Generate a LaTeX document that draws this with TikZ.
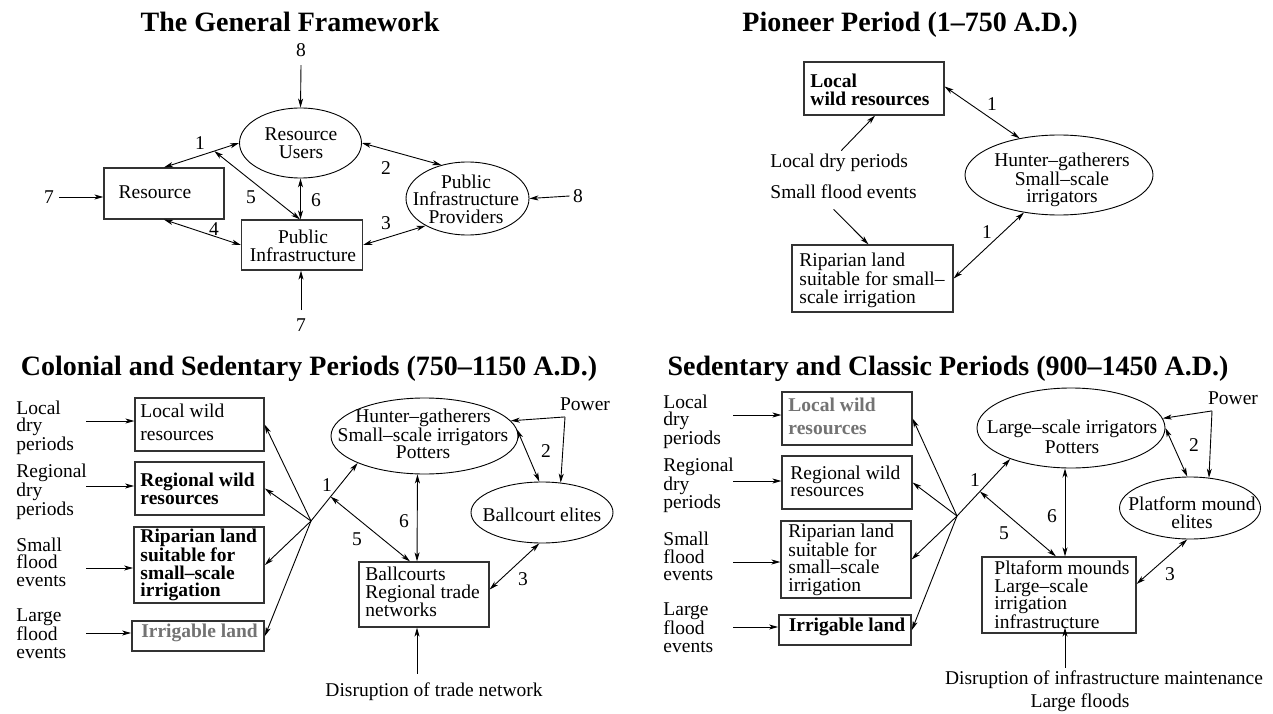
\documentclass[tikz,border=0pt]{standalone}
\usepackage{fontspec}
\setmainfont{Liberation Serif}
\usetikzlibrary{arrows.meta,calc,shapes.geometric}
\definecolor{gtxt}{RGB}{115,115,115}
\definecolor{bline}{RGB}{50,50,50}
\begin{document}
\begin{tikzpicture}[x=1pt,y=-1pt,
  line width=0.9pt,
  arr/.style={-{Stealth[length=9pt,width=5pt,inset=2.5pt]}},
  darr/.style={{Stealth[length=9pt,width=5pt,inset=2.5pt]}-{Stealth[length=9pt,width=5pt,inset=2.5pt]}},
  box/.style={draw=bline,rectangle,inner sep=0pt,line width=1.2pt},
  tbox/.style={box,line width=1.8pt},
  ell/.style={draw,ellipse,inner sep=0pt},
  txt/.style={inner sep=0pt,font=\fontsize{19.5}{17.6}\selectfont},
  btxt/.style={txt,font=\bfseries\fontsize{19.5}{17.6}\selectfont},
  gbtxt/.style={btxt,text=gtxt},
  lbl/.style={txt,align=left,anchor=west},
  ttl/.style={inner sep=0pt,anchor=base,font=\bfseries\fontsize{28}{30}\selectfont}
]
\fill[white] (0,0) rectangle (1273,714);
\useasboundingbox (0,0) rectangle (1273,714);

% ---------------- Panel 1: The General Framework
\node[ttl] (t1) at (290,32) {The General Framework};
\node[ell,minimum width=122pt,minimum height=70pt] (ru) at (300.5,143) {};
\node[txt,align=center] (rut) at (301,143) {Resource\\Users};
\node[box,minimum width=120pt,minimum height=51pt] (res) at (164,193.5) {};
\node[txt] (rest) at (155,192) {Resource};
\node[box,minimum width=121pt,minimum height=50pt] (pi) at (302,245) {};
\node[txt,align=center] (pit) at (303,246) {Public\\Infrastructure};
\node[ell,minimum width=123pt,minimum height=73pt] (pip) at (467.5,198.5) {};
\node[txt,align=center] (pipt) at (466,199) {Public\\Infrastructure\\Providers};
\node[txt] (n8a) at (301,50) {8};
\node[txt] (n8b) at (578,196) {8};
\node[txt] (n7a) at (49,197) {7};
\node[txt] (n7b) at (301,325) {7};
\draw[arr] ($(n8a.south)+(0,8)$) -- (ru.north);
\draw[arr] ($(n8b.west)+(-3,0)$) -- (pip.east);
\draw[arr] ($(n7a.east)+(5,0)$) -- (n7a.east -| res.west);
\draw[arr] ($(n7b.north)+(0,-8)$) -- (n7b.north |- pi.south);
\draw[darr] (ru.west) -- (res.north);
\coordinate (a1m) at ($(ru.west)!0.33!(res.north)$);
\draw[darr] (a1m) -- ($(pi.north)+(-2,0)$);
\draw[darr] (ru.south) -- (ru.south |- pi.north);
\draw[darr] (ru.east) -- (pip.128);
\draw[darr] (pi.east) -- (pip.213);
\draw[darr] (res.south) -- (pi.west);
\node[txt] (l1a) at (200,143) {1};
\node[txt] (l1b) at (386,168) {2};
\node[txt] (l1c) at (386,223) {3};
\node[txt] (l1d) at (214,229) {4};
\node[txt] (l1e) at (251,197) {5};
\node[txt] (l1f) at (316,200) {6};

% ---------------- Panel 2: Pioneer Period
\node[ttl] (t2) at (910,32) {Pioneer Period (1--750 A.D.)};
\node[box,minimum width=140pt,minimum height=53pt] (lwr2) at (874,88.5) {};
\node[btxt,align=left,anchor=west] (lwr2t) at (810,90) {Local\\wild resources};
\node[ell,minimum width=188pt,minimum height=80pt] (hg2) at (1059,175) {};
\node[txt,align=center] (hg2t) at (1062,180) {Hunter--gatherers\\Small--scale\\irrigators};
\node[txt,anchor=west] (ldp2) at (770,163) {Local dry periods};
\node[txt,anchor=west] (sfe2) at (770,192) {Small flood events};
\node[box,minimum width=161pt,minimum height=67pt] (rip2) at (872.5,278.5) {};
\node[lbl] (rip2t) at (799,280.5) {Riparian land\\suitable for small--\\scale irrigation};
\draw[arr] ($(ldp2.north)+(2,-3)$) -- ($(lwr2.south)+(1,0)$);
\draw[arr] ($(sfe2.south)+(-10,10)$) -- ($(rip2.north)+(-4,0)$);
\draw[darr] ($(lwr2.east)+(0,-2)$) -- (hg2.137);
\draw[darr] (rip2.east) -- (hg2.227);
\node[txt] (l2a) at (992,104) {1};
\node[txt] (l2b) at (987,232) {1};

% ---------------- Panel 3: Colonial and Sedentary
\node[ttl] (t3) at (309,375) {Colonial and Sedentary Periods (750--1150 A.D.)};
\node[lbl] (ll3a) at (16,427.5) {Local\\dry\\periods};
\node[lbl] (ll3b) at (16,492) {Regional\\dry\\periods};
\node[lbl] (ll3c) at (16,562) {Small\\flood\\events};
\node[lbl] (ll3d) at (16,633.5) {Large\\flood\\events};
\node[box,minimum width=129pt,minimum height=53pt] (lw3) at (199.5,424.5) {};
\node[lbl] (lw3t) at (140,422.5) {Local wild\\[5pt]resources};
\node[tbox,minimum width=129pt,minimum height=53pt] (rw3) at (199.5,488.5) {};
\node[btxt,align=left,anchor=west] (rw3t) at (140,489) {Regional wild\\resources};
\node[tbox,minimum width=130pt,minimum height=76pt] (rip3) at (199,565) {};
\node[btxt,align=left,anchor=west] (rip3t) at (140,565) {Riparian land\\suitable for\\small--scale\\irrigation};
\node[tbox,minimum width=132pt,minimum height=30pt] (irr3) at (198,636) {};
\node[gbtxt] (irr3t) at (199.5,633) {Irrigable land};
\draw[arr] ($(lw3.west)+(-48,-3.5)$) -- ($(lw3.west)+(0,-3.5)$);
\draw[arr] ($(rw3.west)+(-48,-2.5)$) -- ($(rw3.west)+(0,-2.5)$);
\draw[arr] ($(rip3.west)+(-47,3)$) -- ($(rip3.west)+(0,3)$);
\draw[arr] ($(irr3.west)+(-45,-3)$) -- ($(irr3.west)+(0,-3)$);
\coordinate (fan3) at (311,521);
\foreach \b in {lw3,rw3,rip3,irr3} \draw[arr] (fan3) -- (\b.east);
\node[ell,minimum width=187pt,minimum height=76pt] (hg3) at (424.5,436) {};
\node[txt,align=center] (hg3t) at (423,434) {Hunter--gatherers\\Small--scale irrigators\\Potters};
\draw[arr] (fan3) -- (hg3.202);
\coordinate (a53) at ($(fan3)!0.42!(hg3.202)$);
\node[box,minimum width=130pt,minimum height=65pt] (bc3) at (424,594.5) {};
\node[lbl] (bc3t) at (365,592) {Ballcourts\\Regional trade\\networks};
\draw[darr] (a53) -- ($(bc3.north)+(-14,0)$);
\draw[darr] ($(hg3.south)+(-7,0)$) -- ($(bc3.north)+(-7,0)$);
\node[ell,minimum width=142pt,minimum height=61pt] (be3) at (542,512.5) {};
\node[txt] (be3t) at (542,515) {Ballcourt elites};
\node[txt] (pow3) at (585,404) {Power};
\coordinate (pj3) at ($(pow3.south)+(-20,6)$);
\draw[arr] (pj3) -- (hg3.10);
\draw[arr] (pj3) -- (be3.58);
\draw[darr] (hg3.4) -- (be3.95);
\draw[darr] ($(bc3.east)+(0,-5)$) -- (be3.265);
\node[txt] (dis3) at (434,692) {Disruption of trade network};
\draw[arr] ($(bc3.south)+(-7,46)$) -- ($(bc3.south)+(-7,0)$);
\node[txt] (l3a) at (327,485) {1};
\node[txt] (l3b) at (546,451) {2};
\node[txt] (l3c) at (523,579) {3};
\node[txt] (l3d) at (357,539) {5};
\node[txt] (l3e) at (404,521) {6};

% ---------------- Panel 4: Sedentary and Classic
\node[ttl] (t4) at (948,375) {Sedentary and Classic Periods (900--1450 A.D.)};
\node[lbl] (ll4a) at (663,421.5) {Local\\dry\\periods};
\node[lbl] (ll4b) at (663,485.5) {Regional\\dry\\periods};
\node[lbl] (ll4c) at (663,556.5) {Small\\flood\\events};
\node[lbl] (ll4d) at (663,627.5) {Large\\flood\\events};
\node[box,minimum width=130pt,minimum height=53pt] (lw4) at (847,418.5) {};
\node[gbtxt,align=left,anchor=west] (lw4t) at (788,416.5) {Local wild\\[5pt]resources};
\node[box,minimum width=130pt,minimum height=53pt] (rw4) at (847,482.5) {};
\node[lbl] (rw4t) at (790,481.5) {Regional wild\\resources};
\node[box,minimum width=130pt,minimum height=77pt] (rip4) at (846,559.5) {};
\node[lbl] (rip4t) at (788,559.5) {Riparian land\\suitable for\\small--scale\\irrigation};
\node[tbox,minimum width=132pt,minimum height=30pt] (irr4) at (845,630) {};
\node[btxt] (irr4t) at (847,627) {Irrigable land};
\draw[arr] ($(lw4.west)+(-48,-3.5)$) -- ($(lw4.west)+(0,-3.5)$);
\draw[arr] ($(rw4.west)+(-48,-1.5)$) -- ($(rw4.west)+(0,-1.5)$);
\draw[arr] ($(rip4.west)+(-47,2.5)$) -- ($(rip4.west)+(0,2.5)$);
\draw[arr] ($(irr4.west)+(-45,-3)$) -- ($(irr4.west)+(0,-3)$);
\coordinate (fan4) at (957,516);
\foreach \b in {lw4,rw4,rip4,irr4} \draw[arr] (fan4) -- (\b.east);
\node[ell,minimum width=188pt,minimum height=80pt] (lsi4) at (1071,428) {};
\node[txt,align=center] (lsi4t) at (1072,437) {Large--scale irrigators\\[2pt]Potters};
\draw[arr] (fan4) -- (lsi4.207);
\coordinate (a54) at ($(fan4)!0.43!(lsi4.207)$);
\node[box,minimum width=154pt,minimum height=76pt] (pm4) at (1059,595) {};
\node[lbl] (pm4t) at (994,595) {Pltaform mounds\\Large--scale\\irrigation\\infrastructure};
\draw[darr] (a54) -- ($(pm4.north)+(-3,0)$);
\draw[darr] ($(lsi4.south)+(-6,0)$) -- ($(pm4.north)+(6,0)$);
\node[ell,minimum width=141pt,minimum height=62pt] (pme4) at (1190,508) {};
\node[txt,align=center] (pme4t) at (1192,513) {Platform mound\\elites};
\node[txt] (pow4) at (1233,398) {Power};
\coordinate (pj4) at ($(pow4.south)+(-21,6)$);
\draw[arr] (pj4) -- (lsi4.6);
\draw[arr] (pj4) -- (pme4.58);
\draw[darr] (lsi4.0) -- (pme4.95);
\draw[darr] ($(pm4.east)+(0,-11)$) -- (pme4.265);
\draw[arr] ($(pm4.south)+(6,34)$) -- ($(pm4.south)+(6,-6)$);
\node[txt] (dis4a) at (1104,680) {Disruption of infrastructure maintenance};
\node[txt] (dis4b) at (1080,703) {Large floods};
\node[txt] (l4a) at (975,480) {1};
\node[txt] (l4b) at (1194,445) {2};
\node[txt] (l4c) at (1170,574) {3};
\node[txt] (l4d) at (1004,533) {5};
\node[txt] (l4e) at (1052,516) {6};
\end{tikzpicture}
\end{document}
